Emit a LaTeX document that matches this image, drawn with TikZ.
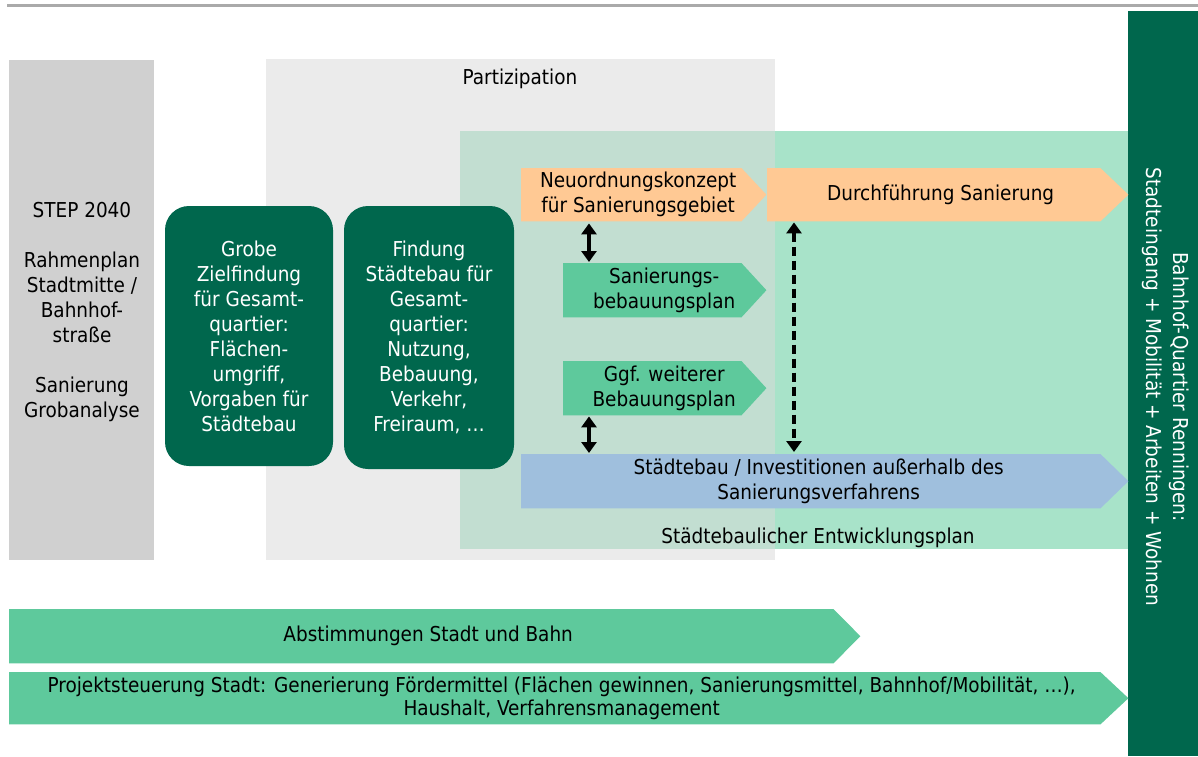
\documentclass[tikz,border=0pt]{standalone}
\usepackage{fontspec}
\setmainfont{DejaVu Sans Condensed}
\usetikzlibrary{arrows.meta,calc}
\definecolor{dkgreen}{RGB}{0,103,77}
\definecolor{mint}{RGB}{94,201,156}
\definecolor{lightmint}{RGB}{168,227,201}
\definecolor{overlapc}{RGB}{194,222,209}
\definecolor{grayL}{RGB}{208,208,208}
\definecolor{grayP}{RGB}{235,235,235}
\definecolor{orangeA}{RGB}{255,201,148}
\definecolor{blueA}{RGB}{159,191,221}
\definecolor{topline}{RGB}{170,170,170}
\tikzset{
  txt/.style={font=\fontsize{20.5}{25}\selectfont, align=center, inner sep=0pt},
  sigbody/.style={draw=none, inner sep=0pt, anchor=north west},
  darkbox/.style={fill=dkgreen, rounded corners=24pt, minimum width=168pt, minimum height=260pt, inner sep=0pt},
  dbl/.style={line width=3.5pt, {Triangle[width=15pt,length=11pt]}-{Triangle[width=15pt,length=11pt]}},
}
\newcommand\sigfill[3]{\fill[#3] (#1.north west) -- (#1.north east) -- ($(#1.east)+(#2,0)$) -- (#1.south east) -- (#1.south west) -- cycle;}
\begin{document}
\begin{tikzpicture}[x=1pt,y=-1pt]
\useasboundingbox (0,0) rectangle (1198,756);
% top line
\draw[topline, line width=3pt] (7,5) -- (1198,5);
% background areas
\fill[grayL] (9,60) rectangle (154,560);
\fill[grayP] (266,59) rectangle (775,560);
\fill[lightmint] (460,131) rectangle (1128,549);
\fill[overlapc] (460,131) rectangle (775,549);
\fill[dkgreen] (1128,11) rectangle (1198,756);
\node[txt] (part) at (520,79) {Partizipation};
\node[txt] (sep) at (818,538) {Städtebaulicher Entwicklungsplan};
\node[txt, text=white, rotate=-90, font=\fontsize{20.5}{27}\selectfont] (bq) at (1166,387) {Bahnhof-Quartier Renningen:\\Stadteingang + Mobilität + Arbeiten + Wohnen};
% left text
\node[txt] (step) at (82,312) {STEP 2040\\[25pt]Rahmenplan\\Stadtmitte /\\Bahnhof-\\straße\\[25pt]Sanierung\\Grobanalyse};
% dark boxes
\node[darkbox] (grobe) at (249,336) {};
\node[txt, text=white] (grobet) at (grobe.center) {Grobe\\Zielfindung\\für Gesamt-\\quartier:\\Flächen-\\umgriff,\\Vorgaben für\\Städtebau};
\node[darkbox, minimum width=170pt, minimum height=263pt] (find) at (429,337.5) {};
\node[txt, text=white] (findt) at (find.center) {Findung\\Städtebau für\\Gesamt-\\quartier:\\Nutzung,\\Bebauung,\\Verkehr,\\Freiraum, …};
% signal arrows
\node[sigbody, minimum width=220pt, minimum height=53pt] (neu) at (521,168) {};
\sigfill{neu}{25}{orangeA}
\node[txt] (neut) at ($(neu.center)+(7,0)$) {Neuordnungskonzept\\für Sanierungsgebiet};
\node[sigbody, minimum width=333pt, minimum height=53pt] (dur) at (767,168) {};
\sigfill{dur}{28}{orangeA}
\node[txt] (durt) at ($(dur.center)+(7,0)$) {Durchführung Sanierung};
\node[sigbody, minimum width=178pt, minimum height=54pt] (sbp) at (563,263) {};
\sigfill{sbp}{25}{mint}
\node[txt] (sbpt) at ($(sbp.center)+(12,0)$) {Sanierungs-\\bebauungsplan};
\node[sigbody, minimum width=178pt, minimum height=54pt] (gbp) at (563,361) {};
\sigfill{gbp}{25}{mint}
\node[txt] (gbpt) at ($(gbp.center)+(12,0)$) {Ggf. weiterer\\Bebauungsplan};
\node[sigbody, minimum width=579pt, minimum height=54pt] (stb) at (521,454) {};
\sigfill{stb}{28}{blueA}
\node[txt] (stbt) at ($(stb.center)+(8,0)$) {Städtebau / Investitionen außerhalb des\\Sanierungsverfahrens};
\node[sigbody, minimum width=824pt, minimum height=54pt] (abs) at (9,609) {};
\sigfill{abs}{27}{mint}
\node[txt] (abst) at ($(abs.center)+(7,0)$) {Abstimmungen Stadt und Bahn};
\node[sigbody, minimum width=1091pt, minimum height=52pt] (prj) at (9,672) {};
\sigfill{prj}{28}{mint}
\node[txt, font=\fontsize{20.5}{23}\selectfont] (prjt) at ($(prj.center)+(7,0)$) {Projektsteuerung Stadt: Generierung Fördermittel (Flächen gewinnen, Sanierungsmittel, Bahnhof/Mobilität, …),\\Haushalt, Verfahrensmanagement};
% connectors
\coordinate (ax) at (589,0);
\coordinate (dx) at (794,0);
\draw[dbl, shorten <=2pt, shorten >=1pt] (neu.south -| ax) -- (sbp.north -| ax);
\draw[dbl, shorten <=1pt, shorten >=1pt] (gbp.south -| ax) -- (stb.north -| ax);
\draw[dbl, dash pattern=on 9pt off 5pt, shorten <=1pt, shorten >=2pt] (dur.south -| dx) -- (stb.north -| dx);
\end{tikzpicture}
\end{document}
